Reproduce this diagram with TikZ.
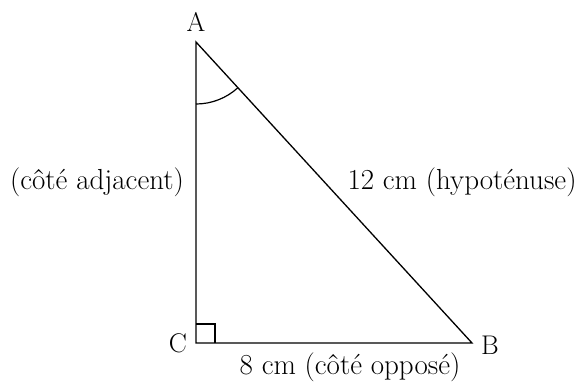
\documentclass[tikz,border=0pt]{standalone}
\usetikzlibrary{positioning}
\tikzset{
  side/.style={line width=1.3pt,line join=miter},
  anglemark/.style={line width=1.2pt},
  vertex/.style={font=\fontsize{27}{30}\selectfont,inner sep=0pt},
  tag/.style={font=\fontsize{29}{32}\selectfont,inner sep=0pt},
}
\begin{document}
\begin{tikzpicture}[x=1pt,y=-1pt]
  \useasboundingbox (0,0) rectangle (585,381);
  % vertices
  \coordinate (A) at (196,42);
  \coordinate (C) at (196,343);
  \coordinate (B) at (472,343);
  \draw[side] (A) -- (C) -- (B) -- cycle;
  % right angle and angle at A
  \draw[anglemark] (C) ++(0,-19) -- ++(19,0) -- ++(0,19);
  \draw[anglemark] (A) ++(90:62) arc[start angle=90,end angle=47.5,radius=62];
  % vertex names
  \node[vertex] (nA) at (196,22) {A};
  \node[vertex] (nC) at (178,343) {C};
  \node[vertex] (nB) at (490,345) {B};
  % side labels
  \node[tag] (adj) at (97,182) {(côté adjacent)};
  \node[tag] (hyp) at (462,182) {12 cm (hypoténuse)};
  \node[tag] (opp) at (350,367) {8 cm (côté opposé)};
\end{tikzpicture}
\end{document}
